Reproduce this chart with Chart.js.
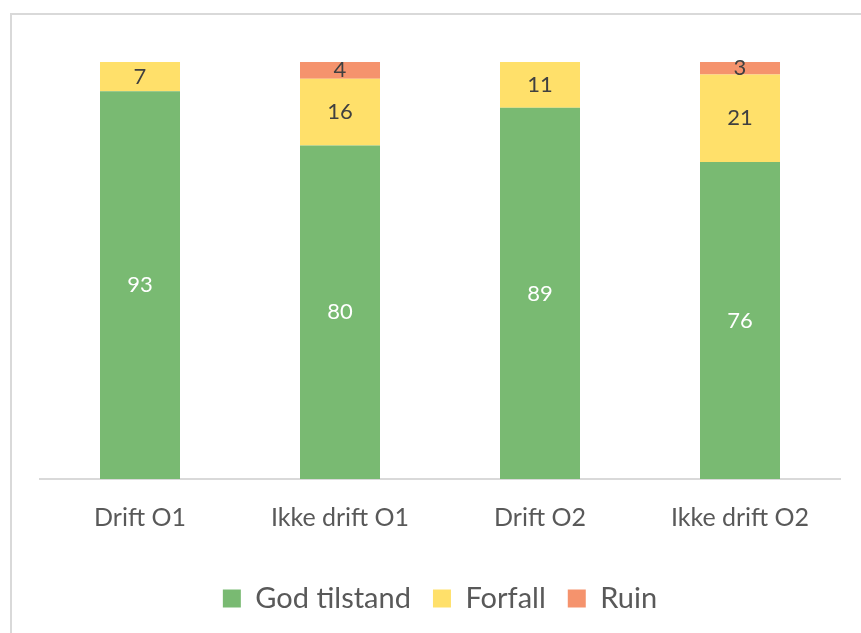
<!DOCTYPE html>
<html>
<head>
<meta charset="utf-8">
<script src="https://cdn.jsdelivr.net/npm/chart.js@4.4.0/dist/chart.umd.min.js"></script>
<style>
    html, body { margin: 0; padding: 0; background: #fff; }
    .frame {
        position: absolute; left: 10px; top: 13px;
        width: 900px; height: 700px;
        border-left: 2px solid #d9d9d9; border-top: 2px solid #d9d9d9;
    }
    .wrap { position: absolute; left: 0; top: 0; width: 861px; height: 633px; }
</style>
</head>
<body>
<div class="frame"></div>
<div class="wrap"><canvas id="chart" width="861" height="633"></canvas></div>
<script>
// Data
const categories = ['Drift O1', 'Ikke drift O1', 'Drift O2', 'Ikke drift O2'];
const godTilstand = [93, 80, 89, 76];
const forfall = [7, 16, 11, 21];
const ruin = [0, 4, 0, 3];

const FONT = 'Lato, "Open Sans", sans-serif';

// Draw the value inside each segment
const segmentLabels = {
    id: 'segmentLabels',
    afterDatasetsDraw(chart) {
        const ctx = chart.ctx;
        ctx.save();
        ctx.font = '22px ' + FONT;
        ctx.textAlign = 'center';
        ctx.textBaseline = 'middle';
        chart.data.datasets.forEach((ds, i) => {
            const meta = chart.getDatasetMeta(i);
            meta.data.forEach((bar, j) => {
                const v = ds.data[j];
                if (!v) return;
                ctx.fillStyle = i === 0 ? '#ffffff' : '#404040';
                ctx.fillText(String(v), bar.x, (bar.y + bar.base) / 2);
            });
        });
        ctx.restore();
    }
};

new Chart(document.getElementById('chart'), {
    type: 'bar',
    data: {
        labels: categories,
        datasets: [
            { label: 'God tilstand', data: godTilstand, backgroundColor: '#79BA72' },
            { label: 'Forfall', data: forfall, backgroundColor: '#FFE06A' },
            { label: 'Ruin', data: ruin, backgroundColor: '#F5936D' }
        ]
    },
    options: {
        responsive: false,
        animation: false,
        layout: { padding: { left: 40, right: 21, top: 62, bottom: 10 } },
        datasets: { bar: { barPercentage: 0.4, categoryPercentage: 1.0 } },
        scales: {
            x: {
                stacked: true,
                grid: { display: false, drawTicks: false },
                border: { display: true, color: '#d9d9d9', width: 2 },
                ticks: { color: '#595959', font: { family: FONT, size: 25 }, padding: 24 },
                afterFit(scale) { scale.height = 83; }
            },
            y: { stacked: true, display: false, min: 0, max: 100 }
        },
        plugins: {
            tooltip: { enabled: false },
            legend: {
                position: 'bottom',
                labels: {
                    color: '#595959',
                    font: { family: FONT, size: 29 },
                    boxWidth: 18, boxHeight: 18,
                    padding: 22
                }
            }
        }
    },
    plugins: [segmentLabels]
});
</script>
</body>
</html>
